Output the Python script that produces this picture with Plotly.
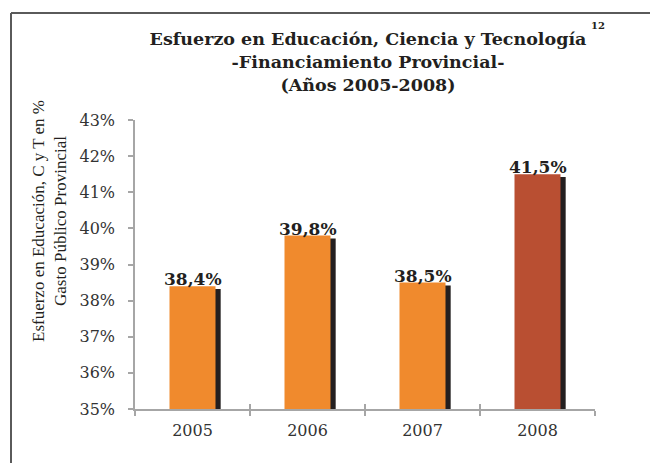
import plotly.graph_objects as go

years = ["2005", "2006", "2007", "2008"]
values = [38.4, 39.8, 38.5, 41.5]
labels = ["38,4%", "39,8%", "38,5%", "41,5%"]
bar_colors = ["#F08A2D", "#F08A2D", "#F08A2D", "#B94F32"]
tick_vals = [35, 36, 37, 38, 39, 40, 41, 42, 43]
tick_text = ["35%", "36%", "37%", "38%", "39%", "40%", "41%", "42%", "43%"]

SERIF = "Georgia, 'DejaVu Serif', serif"
OFF = 8  # page body margin
W, H = 658 - OFF, 463 - OFF
L = 135 - OFF
T = 120 - OFF
R = W - (595 - OFF)
B = H - (409 - OFF)
PW, PH = W - L - R, H - T - B

def px_x(px):  # reference page px -> paper x
    return (px - OFF - L) / PW

def px_y(py):  # reference page px -> paper y
    return (H - B - (py - OFF)) / PH

fig = go.Figure()
# shadow bars
fig.add_trace(go.Bar(
    x=years, y=[v - 0.08 - 35 for v in values], base=35,
    width=0.4, offset=-0.155,
    marker=dict(color="#231F20", line=dict(width=0)),
    hoverinfo="skip", showlegend=False,
))
# main bars
fig.add_trace(go.Bar(
    x=years, y=[v - 35 for v in values], base=35,
    width=0.4, offset=-0.2,
    marker=dict(color=bar_colors, line=dict(width=0)),
    showlegend=False,
))
# invisible helper on overlay axis (for ticks crossing the x axis line)
fig.add_trace(go.Scatter(
    x=years, y=values, xaxis="x2", mode="markers",
    marker=dict(opacity=0), hoverinfo="skip", showlegend=False,
))

annotations = [
    dict(x=i, y=v, text=lab, xref="x", yref="y", showarrow=False,
         xanchor="center", yanchor="bottom", yshift=-5,
         font=dict(family=SERIF, size=17, color="#231F20", weight="bold"))
    for i, (v, lab) in enumerate(zip(values, labels))
]
annotations += [
    dict(text="12", xref="paper", yref="paper", showarrow=False,
         x=px_x(598), y=px_y(26), xanchor="center", yanchor="middle",
         font=dict(family=SERIF, size=10, color="#231F20", weight="bold")),
    dict(text="Esfuerzo en Educación, C y T en %<br>Gasto Público Provincial",
         xref="paper", yref="paper", showarrow=False, textangle=-90,
         x=px_x(49), y=px_y(221), xanchor="center", yanchor="middle",
         font=dict(family="'Liberation Serif', serif", size=17, color="#231F20")),
]

xcommon = dict(type="category", automargin=False, range=[-0.5, len(years) - 0.5],
               tickson="boundaries", ticklen=5, tickcolor="#A6A6A6", tickwidth=1.5,
               showgrid=False, zeroline=False)

fig.update_layout(
    width=W, height=H,
    barmode="overlay",
    paper_bgcolor="white", plot_bgcolor="white",
    margin=dict(l=L, r=R, t=T, b=B, autoexpand=False),
    font=dict(family=SERIF, color="#333333"),
    title=dict(
        text="Esfuerzo en Educación, Ciencia y Tecnología<br>-Financiamiento Provincial-<br>(Años 2005-2008)",
        x=(368 - OFF) / W, xanchor="center", xref="container",
        y=1 - 37 / H, yanchor="top", yref="container",
        font=dict(family=SERIF, size=17.5, color="#231F20", weight="bold"),
    ),
    xaxis=dict(
        **xcommon,
        showline=True, linecolor="#A6A6A6", linewidth=1.5,
        ticks="outside",
        tickfont=dict(family=SERIF, size=16, color="#333333"),
        ticklabelstandoff=6,
    ),
    xaxis2=dict(
        **xcommon,
        overlaying="x", anchor="y", side="bottom",
        ticks="inside", showticklabels=False, showline=False,
    ),
    yaxis=dict(
        automargin=False,
        range=[35, 43], tickvals=tick_vals, ticktext=tick_text,
        showline=True, linecolor="#A6A6A6", linewidth=1.5,
        ticks="outside", ticklen=5, tickcolor="#A6A6A6", tickwidth=1.5,
        tickfont=dict(family=SERIF, size=16, color="#333333"),
        ticklabelstandoff=10,
        showgrid=False, zeroline=False,
    ),
    shapes=[
        dict(type="line", xref="paper", yref="paper",
             x0=px_x(11), x1=px_x(11), y0=px_y(480), y1=px_y(13),
             line=dict(color="#5A5A5A", width=2)),
        dict(type="line", xref="paper", yref="paper",
             x0=px_x(11), x1=px_x(670), y0=px_y(13), y1=px_y(13),
             line=dict(color="#5A5A5A", width=2)),
    ],
    annotations=annotations,
)

fig.write_html("out.html")
